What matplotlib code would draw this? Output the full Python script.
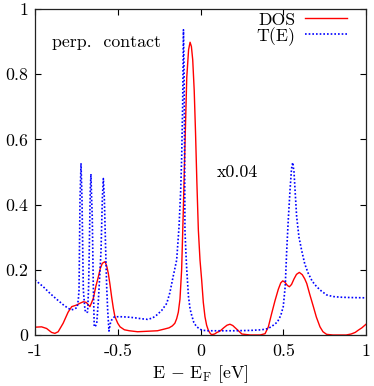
import matplotlib
matplotlib.use("Agg")
import matplotlib.pyplot as plt

plt.rcParams['font.family'] = ['cmr10', 'DejaVu Serif']
plt.rcParams['mathtext.fontset'] = 'cm'
plt.rcParams['axes.unicode_minus'] = False
plt.rcParams['axes.formatter.use_mathtext'] = True

# DOS (red, scaled x0.04)
dos_e = [-1.00, -0.96, -0.93, -0.90, -0.88, -0.86, -0.83, -0.80, -0.778, -0.748,
         -0.73, -0.708, -0.69, -0.668, -0.648, -0.632, -0.617, -0.605, -0.593, -0.577,
         -0.567, -0.557, -0.547, -0.537, -0.527, -0.517, -0.50, -0.486, -0.46, -0.43,
         -0.38, -0.34, -0.30, -0.26, -0.22, -0.19, -0.17, -0.155, -0.144, -0.134,
         -0.124, -0.114, -0.104, -0.094, -0.083, -0.072, -0.063, -0.055, -0.047, -0.038,
         -0.030, -0.022, -0.013, -0.003, 0.007, 0.017, 0.027, 0.037, 0.047, 0.057,
         0.067, 0.085, 0.10, 0.118, 0.14, 0.16, 0.178, 0.195, 0.212, 0.229,
         0.25, 0.30, 0.36, 0.39, 0.41, 0.43, 0.45, 0.47, 0.485, 0.497,
         0.51, 0.525, 0.537, 0.55, 0.565, 0.58, 0.597, 0.615, 0.63, 0.642,
         0.66, 0.682, 0.70, 0.722, 0.74, 0.762, 0.80, 0.88, 0.91, 0.935,
         0.954, 0.975, 1.00]
dos_v = [0.024, 0.025, 0.020, 0.008, 0.005, 0.010, 0.036, 0.070, 0.087, 0.092,
         0.097, 0.102, 0.100, 0.087, 0.112, 0.150, 0.179, 0.205, 0.220, 0.225,
         0.212, 0.189, 0.155, 0.117, 0.083, 0.056, 0.036, 0.025, 0.016, 0.013,
         0.010, 0.011, 0.012, 0.013, 0.018, 0.022, 0.028, 0.036, 0.050, 0.070,
         0.110, 0.200, 0.380, 0.580, 0.790, 0.875, 0.898, 0.885, 0.844, 0.750,
         0.620, 0.470, 0.322, 0.230, 0.169, 0.100, 0.056, 0.030, 0.015, 0.006,
         0.001, 0.003, 0.008, 0.012, 0.022, 0.030, 0.033, 0.029, 0.021, 0.013,
         0.003, 0.000, 0.000, 0.004, 0.025, 0.066, 0.105, 0.140, 0.160, 0.166,
         0.162, 0.152, 0.148, 0.155, 0.172, 0.186, 0.192, 0.185, 0.172, 0.158,
         0.125, 0.087, 0.055, 0.025, 0.010, 0.002, 0.000, 0.000, 0.003, 0.008,
         0.015, 0.022, 0.033]

# Transmission T(E) (blue dotted)
t_e = [-1.00, -0.95, -0.91, -0.87, -0.83, -0.80, -0.78, -0.76, -0.745, -0.738,
       -0.734, -0.728, -0.722, -0.716, -0.708, -0.698, -0.690, -0.682, -0.676, -0.672,
       -0.666, -0.662, -0.658, -0.654, -0.648, -0.642, -0.634, -0.627, -0.617, -0.609,
       -0.601, -0.593, -0.587, -0.581, -0.573, -0.567, -0.561, -0.553, -0.545, -0.537,
       -0.52, -0.48, -0.44, -0.40, -0.36, -0.32, -0.29, -0.265, -0.235, -0.204,
       -0.185, -0.165, -0.144, -0.130, -0.120, -0.114, -0.108, -0.103, -0.099, -0.096,
       -0.094, -0.088, -0.083, -0.073, -0.063, -0.053, -0.040, -0.023, 0.007, 0.04,
       0.10, 0.20, 0.30, 0.37, 0.41, 0.44, 0.465, 0.485, 0.50, 0.512,
       0.521, 0.530, 0.541, 0.550, 0.557, 0.565, 0.573, 0.581, 0.595, 0.611,
       0.630, 0.651, 0.675, 0.702, 0.73, 0.762, 0.80, 0.843, 0.90, 1.00]
t_v = [0.169, 0.148, 0.128, 0.110, 0.093, 0.082, 0.077, 0.080, 0.085, 0.110,
       0.138, 0.414, 0.527, 0.414, 0.138, 0.077, 0.068, 0.071, 0.150, 0.260,
       0.445, 0.494, 0.420, 0.363, 0.158, 0.025, 0.028, 0.036, 0.107, 0.180,
       0.260, 0.420, 0.480, 0.420, 0.260, 0.150, 0.077, 0.012, 0.035, 0.046,
       0.056, 0.056, 0.055, 0.053, 0.050, 0.048, 0.052, 0.061, 0.075, 0.097,
       0.130, 0.180, 0.230, 0.330, 0.440, 0.540, 0.700, 0.936, 0.800, 0.550,
       0.322, 0.250, 0.200, 0.120, 0.080, 0.060, 0.038, 0.025, 0.015, 0.013,
       0.013, 0.013, 0.014, 0.016, 0.020, 0.030, 0.040, 0.060, 0.087, 0.150,
       0.260, 0.350, 0.445, 0.510, 0.529, 0.500, 0.430, 0.363, 0.300, 0.260,
       0.218, 0.189, 0.165, 0.148, 0.135, 0.123, 0.118, 0.116, 0.115, 0.114]

xticks = [-1, -0.5, 0, 0.5, 1]
xtick_labels = ['-1', '-0.5', '0', '0.5', '1']
yticks = [0, 0.2, 0.4, 0.6, 0.8, 1]
ytick_labels = ['0', '0.2', '0.4', '0.6', '0.8', '1']

fs = 12.8
fig = plt.figure(figsize=(3.74, 3.86), dpi=100)
ax = fig.add_axes([35/374, 1 - 335/386, (366 - 35)/374, (335 - 9)/386])

ax.plot(dos_e, dos_v, color='#ff0000', lw=1.0, label='DOS')
ax.plot(t_e, t_v, color='#0000ff', lw=1.2, linestyle=(0, (1, 1.2)), label='T(E)')

ax.set_xlim(-1, 1)
ax.set_ylim(0, 1)
ax.set_xticks(xticks)
ax.set_xticklabels(xtick_labels, fontsize=fs)
ax.set_yticks(yticks)
ax.set_yticklabels(ytick_labels, fontsize=fs)
ax.tick_params(direction='in', top=True, right=True, length=4.5, width=0.8, pad=5)
ax.tick_params(axis='x', pad=6)
for s in ax.spines.values():
    s.set_linewidth(0.9)
    s.set_color('#222222')

ax.set_xlabel(r'E $-$ E$_{\mathrm{F}}$ [eV]', fontsize=fs, labelpad=3)

ax.text(-0.897, 0.898, 'perp.  contact', fontsize=fs, va='center', ha='left')
ax.text(0.10, 0.50, 'x0.04', fontsize=fs, va='center', ha='left')

leg = ax.legend(loc='upper right', frameon=False, markerfirst=False, fontsize=fs,
                handlelength=2.35, handletextpad=0.55, borderaxespad=0.0, borderpad=0.0,
                labelspacing=-0.05, bbox_to_anchor=(0.943, 0.99))
for t in leg.get_texts():
    t.set_ha('right')

fig.savefig('out.png', dpi=100)
